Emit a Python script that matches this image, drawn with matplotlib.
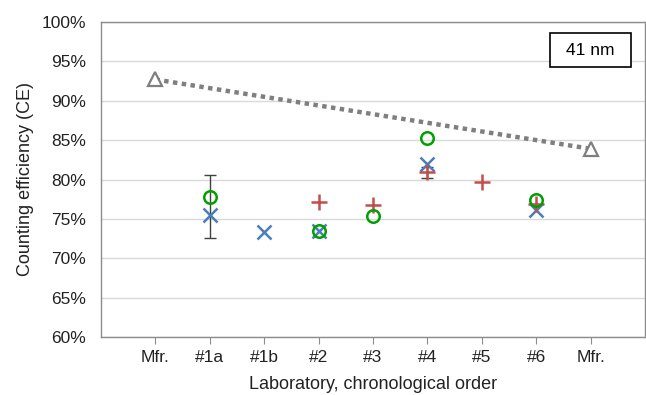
import matplotlib.pyplot as plt
from matplotlib.patches import Rectangle
from matplotlib.ticker import PercentFormatter

plt.rcParams['font.family'] = ['Liberation Sans', 'DejaVu Sans']

labels = ['Mfr.', '#1a', '#1b', '#2', '#3', '#4', '#5', '#6', 'Mfr.']

# manufacturer values (first and last position)
mfr_pos = [1, 9]
mfr_ce = [92.7, 83.9]

# lab measurements, x = position in chronological order
blue_pos = [2, 3, 4, 6, 8]
blue_ce = [75.5, 73.3, 73.5, 82.0, 76.1]

red_pos = [4, 5, 6, 7, 8]
red_ce = [77.1, 76.8, 81.0, 79.7, 76.9]

green_pos = [2, 4, 5, 6, 8]
green_ce = [77.8, 73.5, 75.4, 85.3, 77.4]

# uncertainty ranges
err_pos = [2, 6]
err_low = [72.6, 80.2]
err_high = [80.6, 81.6]

fig = plt.figure(figsize=(6.46, 3.95), dpi=100)
ax = fig.add_axes([101 / 646, 1 - 337 / 395, 544 / 646, 315 / 395])

grey = '#7f7f7f'

# error bars
for x, lo, hi in zip(err_pos, err_low, err_high):
    ax.errorbar([x], [(lo + hi) / 2], yerr=[[(hi - lo) / 2], [(hi - lo) / 2]],
                fmt='none', ecolor='#404040', elinewidth=1, capsize=4, zorder=2)

ax.plot(mfr_pos, mfr_ce, linestyle=(0, (1, 1)), color=grey, linewidth=3.2,
        dash_capstyle='butt', zorder=3)
ax.plot(mfr_pos, mfr_ce, linestyle='none', marker='^', markersize=10,
        markerfacecolor='white', markeredgecolor=grey, markeredgewidth=1.6, zorder=4)

ax.plot(blue_pos, blue_ce, linestyle='none', marker='x', markersize=10,
        color='#4a7ebb', markeredgewidth=1.8, zorder=5)
ax.plot(red_pos, red_ce, linestyle='none', marker='+', markersize=11,
        color='#c0504d', markeredgewidth=1.8, zorder=6)
ax.plot(green_pos, green_ce, linestyle='none', marker='o', markersize=9,
        markerfacecolor='none', markeredgecolor='#00a000', markeredgewidth=1.8, zorder=7)

ax.set_xlim(0, 10)
ax.set_ylim(60, 100)
ax.set_xticks(range(1, 10))
ax.set_xticklabels(labels)
ax.set_yticks(range(60, 101, 5))
ax.yaxis.set_major_formatter(PercentFormatter(decimals=0))
ax.grid(axis='y', color='#d9d9d9', linewidth=1)
ax.set_axisbelow(True)

for s in ax.spines.values():
    s.set_color('#8c8c8c')
    s.set_linewidth(1)

ax.tick_params(axis='y', length=0, labelsize=12.5, pad=11, labelcolor='#222222')
ax.tick_params(axis='x', length=5, color='#8c8c8c', labelsize=12.5, pad=4,
               direction='out', labelcolor='#222222')

ax.set_xlabel('Laboratory, chronological order', fontsize=13, labelpad=8,
              color='#222222')
ax.set_ylabel('Counting efficiency (CE)', fontsize=13, labelpad=5,
              color='#222222')

# "41 nm" label box
ax.add_patch(Rectangle((0.825, 0.857), 0.149, 0.108, transform=ax.transAxes,
                       facecolor='white', edgecolor='black', linewidth=1.2,
                       zorder=8))
ax.text(0.899, 0.911, '41 nm', transform=ax.transAxes, ha='center', va='center',
        fontsize=12.5, zorder=9)

fig.savefig('out.png', dpi=100)
